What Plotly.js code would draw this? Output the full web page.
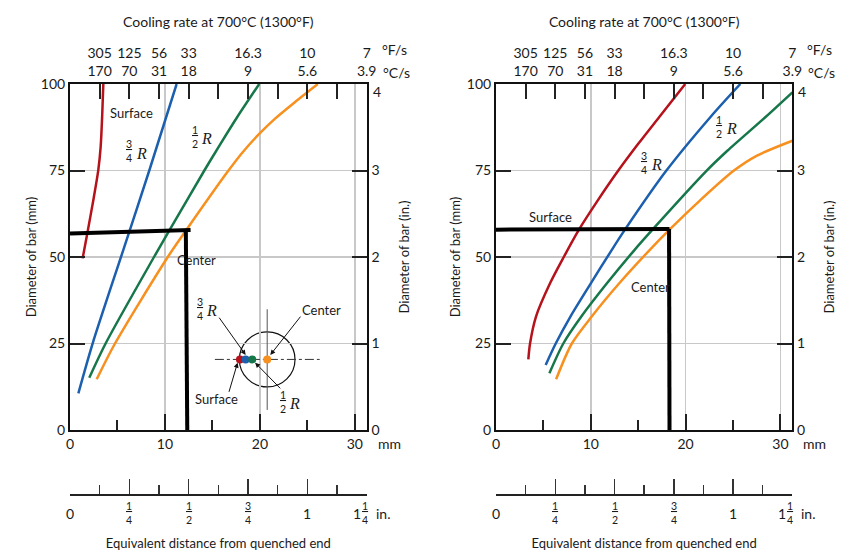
<!DOCTYPE html>
<html><head><meta charset="utf-8">
<script src="https://cdn.plot.ly/plotly-3.0.1.min.js"></script>
<style>body{margin:0;background:#fff}#chart{width:862px;height:551px}</style>
</head><body><div id="chart"></div>
<script>
// ---------- DATA (x = equivalent distance, mm; y = bar diameter, mm) ----------
// Left panel
const L_surface_x = [1.33, 1.82, 2.46, 2.98, 3.23, 3.40, 3.51];
const L_surface_y = [49.6, 56.8, 66.5, 75.1, 81.9, 91.5, 100];
const L_threeQ_x  = [0.88, 2.39, 5.61, 8.35, 11.23];
const L_threeQ_y  = [10.6, 25.06, 52, 75, 100];
const L_half_x    = [2.03, 3.75, 8.85, 10.45, 14.15, 15.85, 17.6, 19.93];
const L_half_y    = [15.1, 25, 50, 57.6, 75, 82.7, 90.4, 100];
const L_center_x  = [2.81, 4.74, 10.3, 12.2, 16.67, 18.1, 19.9, 21.6, 23.8, 26.1];
const L_center_y  = [14.65, 25, 50, 57.6, 74.9, 80, 85.5, 90, 95, 100];
const L_guideH_x = [0, 12.7],    L_guideH_y = [56.8, 57.8];
const L_guideV_x = [12.2, 12.35], L_guideV_y = [57.8, 0];
// Right panel
const R_surface_x = [3.41, 3.59, 4.22, 5.7, 7.15, 8.75, 10.65, 12.88, 15.0, 17.2, 19.96];
const R_surface_y = [20.4, 25, 32.8, 42.4, 50, 57.9, 66, 74.9, 82.7, 90.4, 100];
const R_threeQ_x  = [5.24, 6.3, 7.85, 10.0, 12.2, 13.6, 17.95, 22.6, 25.77];
const R_threeQ_y  = [18.8, 25, 32.8, 42.4, 52, 57.9, 74.9, 90.4, 100];
const R_half_x    = [5.63, 7.1, 9.0, 11.7, 14.6, 16.5, 22.2, 24.4, 28.4, 31.26];
const R_half_y    = [16.4, 25, 32.8, 42.4, 52, 57.9, 74.9, 80.7, 90.4, 97.6];
const R_center_x  = [6.34, 8.0, 10.1, 13.0, 16.2, 18.3, 21.5, 25.06, 27.53, 31.26];
const R_center_y  = [14.65, 25, 32.8, 42.4, 52, 57.9, 66.3, 74.9, 79.3, 83.6];
const R_guideH_x = [0, 18.3],    R_guideH_y = [57.9, 58.1];
const R_guideV_x = [18.25, 18.3], R_guideV_y = [58.1, 0];
// Inset (bar cross-section) in left panel
const inset_cx = 20.77, inset_cy = 20.4, inset_rx = 2.93, inset_ry = 7.95;
const inset_dot_x = [17.9, 18.5, 19.2, 20.77];
const inset_axisH_x = [15.26, 26.3];
const inset_axisV_y = [5.8, 34.9];
// Ticks
const mmTicks = [0, 10, 20, 30], mmMinor = [5, 15, 25];
const diaTicks = [0, 25, 50, 75, 100];
const inTicks = [0, 1, 2, 3, 4];
const inTickText = ['0', '1', '2', '3', ''];   // the top "4" is drawn a little lower, as in the source
const rateTickVals = [1, 2, 3, 4, 6, 8, 10];
const rateMinor = [5, 7, 9];
const rateC = ['170', '70', '31', '18', '9', '5.6', '3.9'];
const rateF = ['305', '125', '56', '33', '16.3', '10', '7'];
const inchVals = [0, 0.25, 0.5, 0.75, 1, 1.25];
const inchMinor = [0.125, 0.375, 0.625, 0.875, 1.125];
const inchNum = [null, '1', '1', '3', null, '1'];
const inchDen = [null, '4', '2', '4', null, '4'];
const inchWhole = ['0', '', '', '', '1', '1'];

const COLORS = {surface:'#b5121b', threeQ:'#1b5fae', half:'#16774a', center:'#f7901e'};
const FONT = 'Lato, "Open Sans", sans-serif';
const SERIF = '"Liberation Serif", "DejaVu Serif", serif';
const INK = '#1a1a1a';

// ---------- geometry (paper fractions) ----------
const W = 862, H = 551;
const yDom = [(H-430)/H, (H-84)/H];
const xDomL = [70/W, 366.7/W];
const xDomR = [496/W, 792.3/W];
const posF = (H-61)/H, posIn = (H-494.3)/H;

function curve(x, y, color, xa, ya){
  return {x, y, xaxis:xa, yaxis:ya, type:'scatter', mode:'lines', line:{color, width:2.5, shape:'spline', smoothing:0.8}, hoverinfo:'skip'};
}
function guide(x, y, xa, ya){
  return {x, y, xaxis:xa, yaxis:ya, type:'scatter', mode:'lines', line:{color:'#000', width:4}, hoverinfo:'skip'};
}
function holder(xa, ya){ // invisible point so every axis pair is a real (overlay) subplot
  return {x:[0], y:[0], xaxis:xa, yaxis:ya, type:'scatter', mode:'markers', marker:{size:1, opacity:0}, hoverinfo:'skip'};
}

const traces = [
  holder('x','y2'), holder('x2','y'), holder('x3','y'), holder('x4','y'),
  holder('x5','y4'), holder('x6','y3'), holder('x7','y3'), holder('x8','y3'),
  curve(L_surface_x, L_surface_y, COLORS.surface, 'x', 'y'),
  curve(L_threeQ_x, L_threeQ_y, COLORS.threeQ, 'x', 'y'),
  curve(L_half_x, L_half_y, COLORS.half, 'x', 'y'),
  curve(L_center_x, L_center_y, COLORS.center, 'x', 'y'),
  guide(L_guideH_x, L_guideH_y, 'x', 'y'),
  guide(L_guideV_x, L_guideV_y, 'x', 'y'),
  curve(R_surface_x, R_surface_y, COLORS.surface, 'x5', 'y3'),
  curve(R_threeQ_x, R_threeQ_y, COLORS.threeQ, 'x5', 'y3'),
  curve(R_half_x, R_half_y, COLORS.half, 'x5', 'y3'),
  curve(R_center_x, R_center_y, COLORS.center, 'x5', 'y3'),
  guide(R_guideH_x, R_guideH_y, 'x5', 'y3'),
  guide(R_guideV_x, R_guideV_y, 'x5', 'y3'),
  // inset
  {x:inset_axisH_x, y:[inset_cy, inset_cy], xaxis:'x', yaxis:'y', type:'scatter', mode:'lines', line:{color:'#333', width:1, dash:'dashdot'}, hoverinfo:'skip'},
  {x:[inset_cx, inset_cx], y:inset_axisV_y, xaxis:'x', yaxis:'y', type:'scatter', mode:'lines', line:{color:'#555', width:1}, hoverinfo:'skip'},
  {x:inset_dot_x, y:inset_dot_x.map(()=>inset_cy), xaxis:'x', yaxis:'y', type:'scatter', mode:'markers',
   marker:{size:8, color:[COLORS.surface, COLORS.threeQ, COLORS.half, COLORS.center]}, hoverinfo:'skip'}
];

const tickCommon = {ticks:'inside', tickwidth:2, tickcolor:'#222', showline:true, linewidth:2, linecolor:'#111',
  zeroline:false, fixedrange:true, tickfont:{family:FONT, size:14, color:INK}};

function mmAxis(dom, anchor){
  return Object.assign({}, tickCommon, {domain:dom, anchor, range:[0,31.25], tickmode:'array', tickvals:mmTicks, ticklen:16,
    showgrid:true, gridcolor:'#c8c8c8', gridwidth:1.5,
    minor:{tickmode:'array', tickvals:mmMinor, ticks:'inside', ticklen:10, tickwidth:2, tickcolor:'#222', showgrid:false}});
}
function diaAxis(anchor, standoff){
  return Object.assign({}, tickCommon, {domain:yDom, anchor, range:[0,100], tickmode:'array', tickvals:diaTicks, ticklen:15,
    showgrid:true, gridcolor:'#c8c8c8', gridwidth:1.5,
    title:{text:'Diameter of bar (mm)', font:{family:FONT, size:13, color:INK}, standoff}});
}
function inAxis(over, anchor){
  return Object.assign({}, tickCommon, {overlaying:over, anchor, side:'right', range:[0,4], tickmode:'array', tickvals:inTicks, ticktext:inTickText, ticklen:15,
    showgrid:false, title:{text:'Diameter of bar (in.)', font:{family:FONT, size:13, color:INK}, standoff:21}});
}
function rateCAxis(over, anchor){
  return Object.assign({}, tickCommon, {overlaying:over, anchor, side:'top', range:[0,10], tickmode:'array', tickvals:rateTickVals, ticktext:rateC, ticklen:15,
    showgrid:false, minor:{tickmode:'array', tickvals:rateMinor, ticks:'inside', ticklen:15, tickwidth:2, tickcolor:'#222', showgrid:false}});
}
function rateFAxis(over){
  return {overlaying:over, anchor:'free', position:posF, side:'top', range:[0,10], tickmode:'array', tickvals:rateTickVals, ticktext:rateF,
    ticks:'', showline:false, showgrid:false, zeroline:false, fixedrange:true, tickfont:{family:FONT, size:14, color:INK},
    title:{text:'Cooling rate at 700°C (1300°F)', font:{family:FONT, size:14, color:INK}, standoff:12}};
}
function inchAxis(over){
  return {overlaying:over, anchor:'free', position:posIn, side:'bottom', range:[0,1.25], tickmode:'array', tickvals:inchVals,
    showticklabels:false, ticks:'inside', ticklen:15, tickwidth:1.5, tickcolor:'#333', showline:true, linewidth:1.5, linecolor:'#222',
    showgrid:false, zeroline:false, fixedrange:true,
    minor:{tickmode:'array', tickvals:inchMinor, ticks:'inside', ticklen:9, tickwidth:1.5, tickcolor:'#333', showgrid:false},
    title:{text:'Equivalent distance from quenched end', font:{family:FONT, size:13, color:INK}, standoff:44}};
}

function lbl(xref, yref, x, y, text, extra){
  return Object.assign({xref, yref, x, y, text, showarrow:false, xanchor:'center', yanchor:'middle',
    font:{family:FONT, size:13, color:INK}}, extra||{});
}
function frac(n, d){ return '<span style="text-decoration:underline">'+n+'</span><br>'+d; }
function fracR(xref, yref, x, y, n, d){
  return [
    lbl(xref, yref, x, y, frac(n, d), {font:{family:FONT, size:10.5, color:INK}, xshift:-6}),
    lbl(xref, yref, x, y, '<i>R</i>', {font:{family:SERIF, size:16, color:INK}, xshift:6, yshift:-2})
  ];
}
function arrow(x, y, ax, ay){
  return {xref:'x', yref:'y', axref:'x', ayref:'y', x, y, ax, ay, text:'', showarrow:true, arrowhead:2, arrowsize:1, arrowwidth:1, arrowcolor:'#111'};
}
function inchLabels(xref){
  const out = [];
  const yIn = (H-513)/H;
  inchVals.forEach((v,i)=>{
    if(inchNum[i] && inchWhole[i]){
      out.push(lbl(xref,'paper',v,yIn,inchWhole[i],{font:{family:FONT,size:14,color:INK}, xshift:-10}));
      out.push(lbl(xref,'paper',v,yIn,frac(inchNum[i],inchDen[i]),{font:{family:FONT,size:10.5,color:INK}, xshift:-2}));
    } else if(inchNum[i]){
      out.push(lbl(xref,'paper',v,yIn,frac(inchNum[i],inchDen[i]),{font:{family:FONT,size:10.5,color:INK}}));
    } else {
      out.push(lbl(xref,'paper',v,yIn,inchWhole[i],{font:{family:FONT,size:14,color:INK}}));
    }
  });
  out.push(lbl(xref,'paper',1.25,yIn,'in.',{font:{family:FONT,size:14,color:INK}, xanchor:'left', xshift:7}));
  return out;
}
function unitLabels(xC, xMM, yIn){
  const f = {family:FONT, size:14, color:INK};
  return [
    lbl(xC,'paper',10,(H-49)/H,'°F/s',{font:f, xanchor:'left', xshift:13}),
    lbl(xC,'paper',10,(H-72)/H,'°C/s',{font:f, xanchor:'left', xshift:14}),
    lbl(xMM,'paper',31.25,(H-443)/H,'mm',{font:f, xanchor:'left', xshift:9}),
    lbl(xMM,yIn,31.25,inTicks[4],String(inTicks[4]),{font:f, xanchor:'left', xshift:4, yshift:-7})
  ];
}

const annotations = [].concat(
  // left panel labels
  [lbl('x','y',6.5,91.5,'Surface'), lbl('x','y',13.3,49.1,'Center')],
  fracR('x','y',6.88,80.6,'3','4'),
  fracR('x','y',13.77,84.7,'1','2'),
  // inset labels
  fracR('x','y',14.3,35.0,'3','4'),
  fracR('x','y',23.05,8.2,'1','2'),
  [lbl('x','y',15.44,8.85,'Surface'), lbl('x','y',26.5,34.7,'Center')],
  [arrow(18.5,21.7,15.6,32.9), arrow(21.1,21.7,24.4,33.2), arrow(17.65,19.45,16.7,10.6), arrow(19.5,19.45,22.3,11.6)],
  // right panel labels
  [lbl('x5','y3',5.78,61.7,'Surface'), lbl('x5','y3',16.3,41.4,'Center')],
  fracR('x5','y3',16.26,77.2,'3','4'),
  fracR('x5','y3',24.18,87.7,'1','2'),
  inchLabels('x4'), inchLabels('x8'),
  unitLabels('x2','x','y2'), unitLabels('x6','x5','y4')
);

const layout = {
  width:W, height:H, margin:{l:0, r:0, t:0, b:0}, showlegend:false,
  paper_bgcolor:'#fff', plot_bgcolor:'#fff', font:{family:FONT, color:INK},
  xaxis: mmAxis(xDomL, 'y'),
  yaxis: diaAxis('x', 1),
  yaxis2: inAxis('y', 'x'),
  xaxis2: rateCAxis('x', 'y'),
  xaxis3: rateFAxis('x'),
  xaxis4: inchAxis('x'),
  xaxis5: mmAxis(xDomR, 'y3'),
  yaxis3: diaAxis('x5', 3),
  yaxis4: inAxis('y3', 'x5'),
  xaxis6: rateCAxis('x5', 'y3'),
  xaxis7: rateFAxis('x5'),
  xaxis8: inchAxis('x5'),
  shapes:[{type:'circle', xref:'x', yref:'y', x0:inset_cx-inset_rx, x1:inset_cx+inset_rx, y0:inset_cy-inset_ry, y1:inset_cy+inset_ry,
           line:{color:'#111', width:1.2}, layer:'below'}],
  annotations
};

Plotly.newPlot('chart', traces, layout, {staticPlot:true, displayModeBar:false});
</script>
</body></html>
